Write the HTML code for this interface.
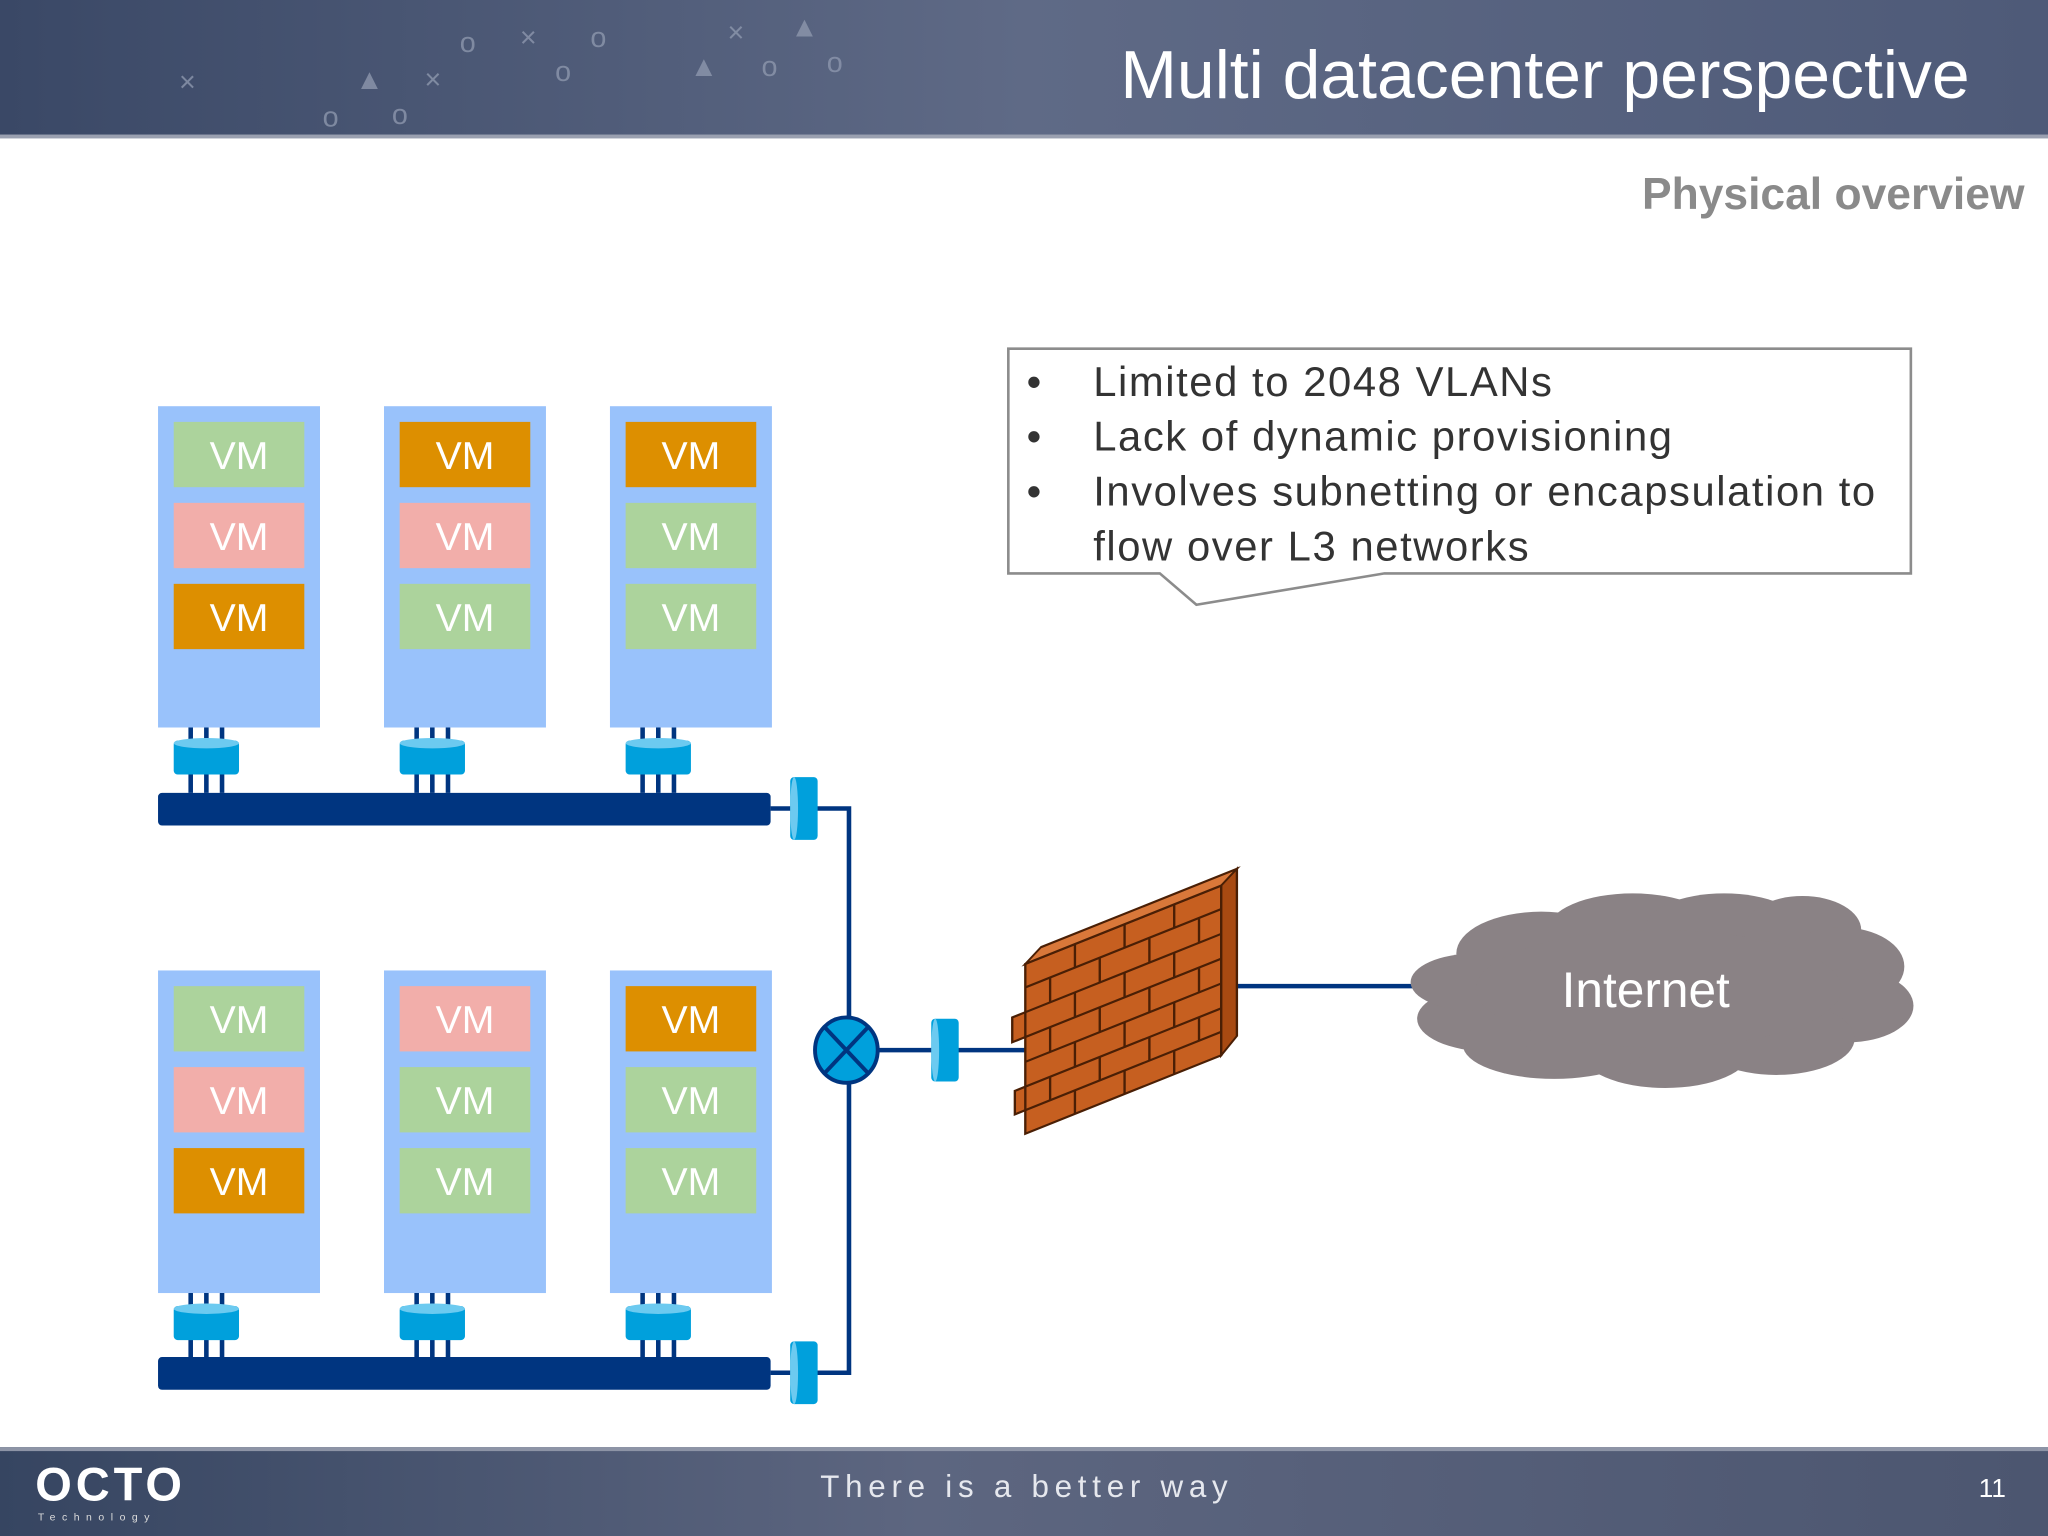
<!DOCTYPE html>
<html><head><meta charset="utf-8"><style>
html,body{margin:0;padding:0;width:2048px;height:1536px;overflow:hidden;background:#fff}
svg{display:block}
text{font-family:"Liberation Sans",sans-serif}
</style></head><body>
<svg width="2048" height="1536" viewBox="0 0 1568 1176" xmlns="http://www.w3.org/2000/svg">
<defs>
<linearGradient id="hd" x1="0" x2="1" y1="0" y2="0"><stop offset="0" stop-color="#3a4866"/><stop offset="0.5" stop-color="#5f6a86"/><stop offset="1" stop-color="#4e5a78"/></linearGradient>
<linearGradient id="ft" x1="0" x2="1" y1="0" y2="0"><stop offset="0" stop-color="#364561"/><stop offset="0.45" stop-color="#5d6680"/><stop offset="1" stop-color="#4c5670"/></linearGradient>
<g id="nic">
<g stroke="#003580" stroke-width="3.5">
<line x1="-12" y1="0" x2="-12" y2="50"/><line x1="0" y1="0" x2="0" y2="50"/><line x1="12" y1="0" x2="12" y2="50"/>
</g>
<rect x="-25" y="10" width="50" height="26" rx="3" fill="#00a0dc"/>
<ellipse cx="0" cy="12" rx="25" ry="4" fill="#6ccaf0"/>
</g>
<g id="port"><rect x="605" y="595" width="21" height="48" rx="3" fill="#00a0dc"/><ellipse cx="608" cy="619" rx="3" ry="24" fill="#6ccaf0"/></g>
</defs>
<rect x="0" y="0" width="1568" height="105" fill="url(#hd)"/>
<rect x="0" y="103" width="1568" height="3" fill="#9aa0b0"/>
<g fill="#8d97ad" font-size="22" opacity="0.8">
<text x="137" y="70">×</text><text x="247" y="97">o</text><text x="300" y="95">o</text><text x="325" y="68">×</text><text x="352" y="40">o</text><text x="398" y="36">×</text><text x="425" y="62">o</text><text x="452" y="36">o</text><text x="557" y="32">×</text><text x="583" y="58">o</text><text x="633" y="55">o</text><text x="272" y="68">▲</text><text x="528" y="58">▲</text><text x="605" y="28">▲</text>
</g>
<text x="1508" y="75" text-anchor="end" font-size="52" fill="#fff">Multi datacenter perspective</text>
<text x="1550" y="160" text-anchor="end" font-size="34" font-weight="bold" fill="#8a8a8a">Physical overview</text>

<path d="M772,267 H1463 V439 H1060 L916,463 L888,439 H772 Z" fill="#fff" stroke="#8c8c8c" stroke-width="2"/>
<g font-size="32" fill="#333">
<text x="786" y="303">•</text><text x="837" y="303" letter-spacing="1.2">Limited to 2048 VLANs</text>
<text x="786" y="345">•</text><text x="837" y="345" letter-spacing="1.2">Lack of dynamic provisioning</text>
<text x="786" y="387">•</text><text x="837" y="387" letter-spacing="1.2">Involves subnetting or encapsulation to</text>
<text x="837" y="429" letter-spacing="1.2">flow over L3 networks</text>
</g>

<rect x="121" y="311" width="124" height="246" fill="#99c2fb"/>
<rect x="294" y="311" width="124" height="246" fill="#99c2fb"/>
<rect x="467" y="311" width="124" height="246" fill="#99c2fb"/>
<rect x="121" y="743" width="124" height="247" fill="#99c2fb"/>
<rect x="294" y="743" width="124" height="247" fill="#99c2fb"/>
<rect x="467" y="743" width="124" height="247" fill="#99c2fb"/>
<g>
<rect x="133" y="323" width="100" height="50" fill="#acd39c"/><rect x="133" y="385" width="100" height="50" fill="#f2aeaa"/><rect x="133" y="447" width="100" height="50" fill="#dd8f00"/>
<rect x="306" y="323" width="100" height="50" fill="#dd8f00"/><rect x="306" y="385" width="100" height="50" fill="#f2aeaa"/><rect x="306" y="447" width="100" height="50" fill="#acd39c"/>
<rect x="479" y="323" width="100" height="50" fill="#dd8f00"/><rect x="479" y="385" width="100" height="50" fill="#acd39c"/><rect x="479" y="447" width="100" height="50" fill="#acd39c"/>
<rect x="133" y="755" width="100" height="50" fill="#acd39c"/><rect x="133" y="817" width="100" height="50" fill="#f2aeaa"/><rect x="133" y="879" width="100" height="50" fill="#dd8f00"/>
<rect x="306" y="755" width="100" height="50" fill="#f2aeaa"/><rect x="306" y="817" width="100" height="50" fill="#acd39c"/><rect x="306" y="879" width="100" height="50" fill="#acd39c"/>
<rect x="479" y="755" width="100" height="50" fill="#dd8f00"/><rect x="479" y="817" width="100" height="50" fill="#acd39c"/><rect x="479" y="879" width="100" height="50" fill="#acd39c"/>
</g>
<g font-size="30" fill="#fff" text-anchor="middle">
<text x="183" y="359">VM</text><text x="183" y="421">VM</text><text x="183" y="483">VM</text>
<text x="356" y="359">VM</text><text x="356" y="421">VM</text><text x="356" y="483">VM</text>
<text x="529" y="359">VM</text><text x="529" y="421">VM</text><text x="529" y="483">VM</text>
<text x="183" y="791">VM</text><text x="183" y="853">VM</text><text x="183" y="915">VM</text>
<text x="356" y="791">VM</text><text x="356" y="853">VM</text><text x="356" y="915">VM</text>
<text x="529" y="791">VM</text><text x="529" y="853">VM</text><text x="529" y="915">VM</text>
</g>

<use href="#nic" x="158" y="557"/><use href="#nic" x="331" y="557"/><use href="#nic" x="504" y="557"/>
<use href="#nic" x="158" y="990"/><use href="#nic" x="331" y="990"/><use href="#nic" x="504" y="990"/>

<rect x="121" y="607" width="469" height="25" rx="3" fill="#003580"/>
<rect x="121" y="1039" width="469" height="25" rx="3" fill="#003580"/>
<path d="M590,619 H650 V1051 H590" fill="none" stroke="#003580" stroke-width="3.5"/>
<line x1="650" y1="804" x2="790" y2="804" stroke="#003580" stroke-width="3.5"/>
<line x1="945" y1="755" x2="1090" y2="755" stroke="#003580" stroke-width="3.5"/>
<use href="#port"/>
<use href="#port" x="0" y="432"/>
<use href="#port" x="108" y="185"/>
<ellipse cx="648" cy="804" rx="24" ry="25" fill="#00a0dc" stroke="#003580" stroke-width="3"/>
<line x1="631" y1="786" x2="665" y2="822" stroke="#003580" stroke-width="3"/>
<line x1="665" y1="786" x2="631" y2="822" stroke="#003580" stroke-width="3"/>

<!-- firewall -->
<g transform="matrix(1,-0.4,0,1,785,738)" stroke="#4a1f05" stroke-width="1.8" fill="#c65f20">
<rect x="0" y="0" width="150" height="130"/>
<g fill="none">
<line x1="0" y1="18" x2="150" y2="18"/><line x1="0" y1="37" x2="150" y2="37"/><line x1="0" y1="56" x2="150" y2="56"/><line x1="0" y1="75" x2="150" y2="75"/><line x1="0" y1="94" x2="150" y2="94"/><line x1="0" y1="112" x2="150" y2="112"/>
<path d="M38,0V18M76,0V18M114,0V18 M19,18V37M57,18V37M95,18V37M133,18V37 M38,37V56M76,37V56M114,37V56 M19,56V75M57,56V75M95,56V75M133,56V75 M38,75V94M76,75V94M114,75V94 M19,94V112M57,94V112M95,94V112M133,94V112 M38,112V130M76,112V130M114,112V130"/>
</g>
<path d="M0,0 L12,-8 L162,-8 L150,0 Z" fill="#d9783a"/>
<path d="M150,0 L162,-8 L162,120 L150,130 Z" fill="#a84a12"/>
<path d="M-10,37 L0,37 L0,56 L-10,56 Z M-8,94 L0,94 L0,112 L-8,112 Z" fill="#c65f20"/>
</g>

<g fill="#8a8285">
<ellipse cx="1180" cy="730" rx="65" ry="32"/><ellipse cx="1250" cy="712" rx="65" ry="28"/><ellipse cx="1320" cy="710" rx="60" ry="26"/><ellipse cx="1380" cy="712" rx="45" ry="26"/>
<ellipse cx="1410" cy="740" rx="48" ry="30"/><ellipse cx="1415" cy="770" rx="50" ry="28"/><ellipse cx="1360" cy="795" rx="60" ry="28"/>
<ellipse cx="1275" cy="805" rx="65" ry="28"/><ellipse cx="1190" cy="800" rx="70" ry="26"/><ellipse cx="1140" cy="780" rx="55" ry="25"/><ellipse cx="1130" cy="752" rx="50" ry="22"/>
<ellipse cx="1270" cy="757" rx="140" ry="45"/>
</g>
<text x="1260" y="771" text-anchor="middle" font-size="38" fill="#fff">Internet</text>

<rect x="0" y="1108" width="1568" height="68" fill="url(#ft)"/>
<rect x="0" y="1108" width="1568" height="3" fill="#8d94a6"/>
<text x="27" y="1149" font-size="36" font-weight="bold" fill="#fff" letter-spacing="3">OCTO</text>
<text x="29" y="1164" font-size="8" fill="#ddd" letter-spacing="5">Technology</text>
<text x="628" y="1146" font-size="24" fill="#e6e8ee" letter-spacing="4.4">There is a better way</text>
<text x="1515" y="1146" font-size="20" fill="#fff">11</text>
</svg>
</body></html>
